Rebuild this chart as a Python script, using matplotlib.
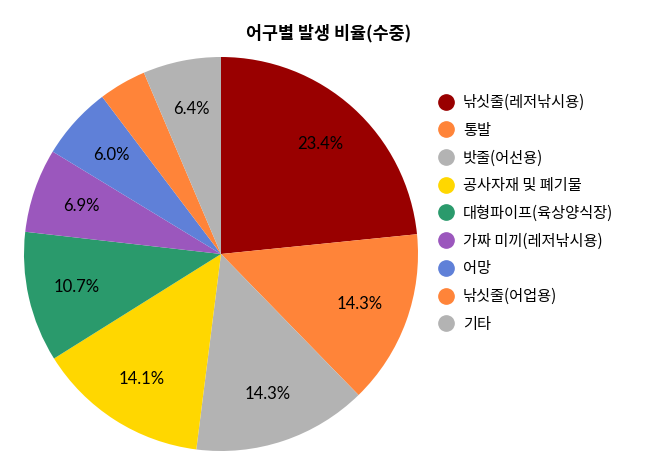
import matplotlib
matplotlib.use("Agg")
import matplotlib.pyplot as plt
from matplotlib.lines import Line2D
import numpy as np

plt.rcParams['font.family'] = ['Noto Sans CJK KR', 'DejaVu Sans']

title = '어구별 발생 비율(수중)'
categories = ['낚싯줄(레저낚시용)', '통발', '밧줄(어선용)', '공사자재 및 폐기물',
              '대형파이프(육상양식장)', '가짜 미끼(레저낚시용)', '어망', '낚싯줄(어업용)', '기타']
values = [23.4, 14.3, 14.3, 14.1, 10.7, 6.9, 6.0, 3.9, 6.4]
colors = ['#990000', '#FF8439', '#B3B3B3', '#FFD700', '#2A9A6C',
          '#9B57BD', '#5F80D8', '#FF8439', '#B3B3B3']
show_pct = [True, True, True, True, True, True, True, False, True]

fig = plt.figure(figsize=(6.58, 4.76), dpi=100)
# pie centre ~ (221, 254) px, radius ~197 px
ax = fig.add_axes([(221 - 197) / 658, (476 - 254 - 197) / 476, 394 / 658, 394 / 476])

wedges, texts = ax.pie(values, colors=colors, startangle=90, counterclock=False,
                       wedgeprops=dict(linewidth=0))
ax.set_xlim(-1, 1)
ax.set_ylim(-1, 1)
ax.set_aspect('equal')

for w, v, show in zip(wedges, values, show_pct):
    mid = np.deg2rad((w.theta1 + w.theta2) / 2)
    if show:
        ax.text(0.75 * np.cos(mid), 0.75 * np.sin(mid), f'{v:.1f}%',
                ha='center', va='center', fontsize=12, family=['Lato', 'DejaVu Sans'],
                color='black')

fig.text(329 / 658, 1 - 33 / 476, title, ha='center', va='center',
         fontsize=12.5, fontweight='bold')

handles = [Line2D([], [], marker='o', linestyle='none', markersize=11,
                  markerfacecolor=c, markeredgecolor=c) for c in colors]
fig.legend(handles, categories, loc='upper left',
           bbox_to_anchor=(437 / 658, 1 - 94 / 476), frameon=False,
           fontsize=11, labelspacing=0.70, handletextpad=0.5, handlelength=1.2,
           borderpad=0, borderaxespad=0)

fig.savefig('out.png', dpi=100)
